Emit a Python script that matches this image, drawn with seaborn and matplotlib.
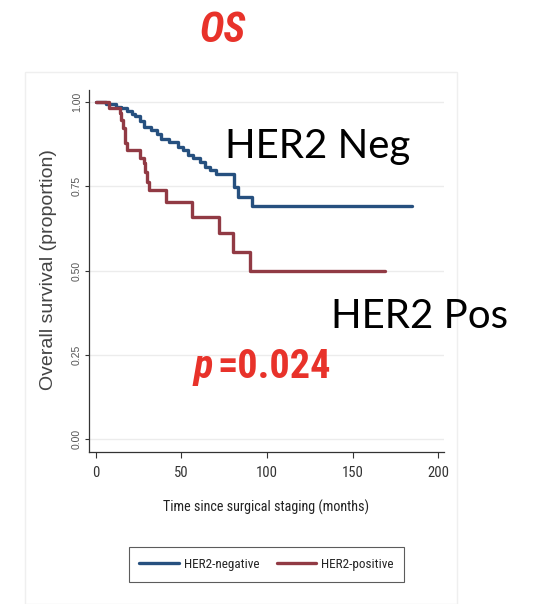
import matplotlib
matplotlib.use("Agg")
import matplotlib.pyplot as plt
from matplotlib.patches import Rectangle
import numpy as np
import pandas as pd
import seaborn as sns

# Kaplan-Meier step estimates: event times (months) and survival proportions
neg_times = [0, 6, 12, 15, 18, 21, 23, 26, 28, 32, 36, 38, 43, 48, 51, 54, 57,
             61, 64, 67, 70, 81, 83, 91]
neg_surv = [1.0, 0.992, 0.985, 0.980, 0.972, 0.965, 0.957, 0.943, 0.926, 0.916,
            0.903, 0.891, 0.882, 0.867, 0.857, 0.842, 0.832, 0.822, 0.807,
            0.798, 0.785, 0.748, 0.719, 0.692]
neg_last_followup = 184.5

pos_times = [0, 8, 14, 15, 16, 17, 18, 26, 28, 29, 30, 31, 41, 56, 72, 80, 90]
pos_surv = [1.0, 0.980, 0.966, 0.946, 0.921, 0.877, 0.857, 0.832, 0.818, 0.793,
            0.763, 0.738, 0.704, 0.659, 0.610, 0.556, 0.50]
pos_last_followup = 169.0

group_labels = ["HER2-negative", "HER2-positive"]
x_ticks = [0, 50, 100, 150, 200]
y_ticks = [0.00, 0.25, 0.50, 0.75, 1.00]
p_value = "0.024"

W, H = 533, 604
sns.set_style("white")
plt.rcParams["font.family"] = ["Liberation Sans", "DejaVu Sans"]

NARROW = ["Roboto Condensed", "Archivo Narrow", "Liberation Sans"]
HEAVY = ["Roboto Condensed", "Barlow Condensed", "Liberation Sans"]
CALI = ["Lato", "DejaVu Sans"]
BLUE = "#26507f"
MAROON = "#913a44"
RED = "#e8322a"


def fx(px):
    return px / W


def fy(py):
    return 1 - py / H


rows = []
for t, s in zip(neg_times + [neg_last_followup], neg_surv + [neg_surv[-1]]):
    rows.append((group_labels[0], t, s))
for t, s in zip(pos_times + [pos_last_followup], pos_surv + [pos_surv[-1]]):
    rows.append((group_labels[1], t, s))
df = pd.DataFrame(rows, columns=["group", "months", "survival"])

fig = plt.figure(figsize=(W / 100, H / 100), dpi=100)
fig.patch.set_facecolor("white")

# faint panel frame around the graph region
fig.patches.append(Rectangle((fx(25), 0), fx(457) - fx(25), fy(71.5),
                             transform=fig.transFigure, fill=False,
                             edgecolor="#efefef", linewidth=1.0))

ax = fig.add_axes([fx(89), fy(451.7), fx(444) - fx(89), fy(90) - fy(451.7)])

sns.lineplot(data=df, x="months", y="survival", hue="group",
             palette={group_labels[0]: BLUE, group_labels[1]: MAROON},
             estimator=None, sort=False, drawstyle="steps-post",
             linewidth=2.4, ax=ax)

handles, labels = ax.get_legend_handles_labels()
ax.get_legend().remove()

ax.set_xlim(-3.9, 203.3)
ax.set_ylim(-0.0367, 1.0347)
ax.set_xticks(x_ticks)
ax.set_xticklabels([str(v) for v in x_ticks])
ax.set_yticks(y_ticks)
ax.set_yticklabels([f"{v:.2f}" for v in y_ticks])

for lbl in ax.get_xticklabels():
    lbl.set_fontfamily(NARROW)
    lbl.set_fontsize(10.5)
    lbl.set_color("#333333")
for lbl in ax.get_yticklabels():
    lbl.set_rotation(90)
    lbl.set_va("center")
    lbl.set_fontsize(7.5)
    lbl.set_color("#555555")

ax.tick_params(axis="x", direction="out", length=4.5, width=0.8,
               color="#333333", pad=6, bottom=True)
ax.tick_params(axis="y", direction="out", length=3, width=0.8,
               color="#333333", pad=2, left=True)

ax.grid(axis="y", color="#ececec", linewidth=1.0)
ax.grid(axis="x", visible=False)
ax.set_axisbelow(True)
for side in ["top", "right"]:
    ax.spines[side].set_visible(False)
for side in ["left", "bottom"]:
    ax.spines[side].set_color("#333333")
    ax.spines[side].set_linewidth(0.9)

ax.set_xlabel("")
ax.set_ylabel("")
fig.text(fx(266), fy(507), "Time since surgical staging (months)",
         ha="center", va="center", fontsize=10.2, family=NARROW, color="#222222")
fig.text(fx(49), fy(270), "Overall survival (proportion)", rotation=90,
         ha="center", va="center", fontsize=14, color="#444444")

# title and annotations
fig.text(fx(223), fy(31), "OS", ha="center", va="center", fontsize=30,
         fontweight="bold", fontstyle="italic", family=HEAVY, color=RED)
fig.text(fx(225), fy(158), "HER2 Neg", ha="left", va="baseline",
         fontsize=29, family=CALI, color="black")
fig.text(fx(331), fy(328), "HER2 Pos", ha="left", va="baseline",
         fontsize=29, family=CALI, color="black")
fig.text(fx(194), fy(378), "p", ha="left", va="baseline", fontsize=29,
         fontweight="bold", fontstyle="italic", family=HEAVY, color=RED)
fig.text(fx(217), fy(378), "=" + p_value, ha="left", va="baseline",
         fontsize=29, fontweight="bold", family=HEAVY, color=RED)

leg = fig.legend(handles, labels, loc="center", ncol=2,
                 bbox_to_anchor=(fx(266.5), fy(564.5)),
                 prop={"family": NARROW, "size": 9.5},
                 handlelength=3.0, handletextpad=0.4, columnspacing=1.3,
                 borderpad=0.8, frameon=True, fancybox=False)
leg.get_frame().set_edgecolor("#333333")
leg.get_frame().set_linewidth(0.8)
for line in leg.get_lines():
    line.set_linewidth(2.4)

fig.savefig("out.png", dpi=100, facecolor="white")
